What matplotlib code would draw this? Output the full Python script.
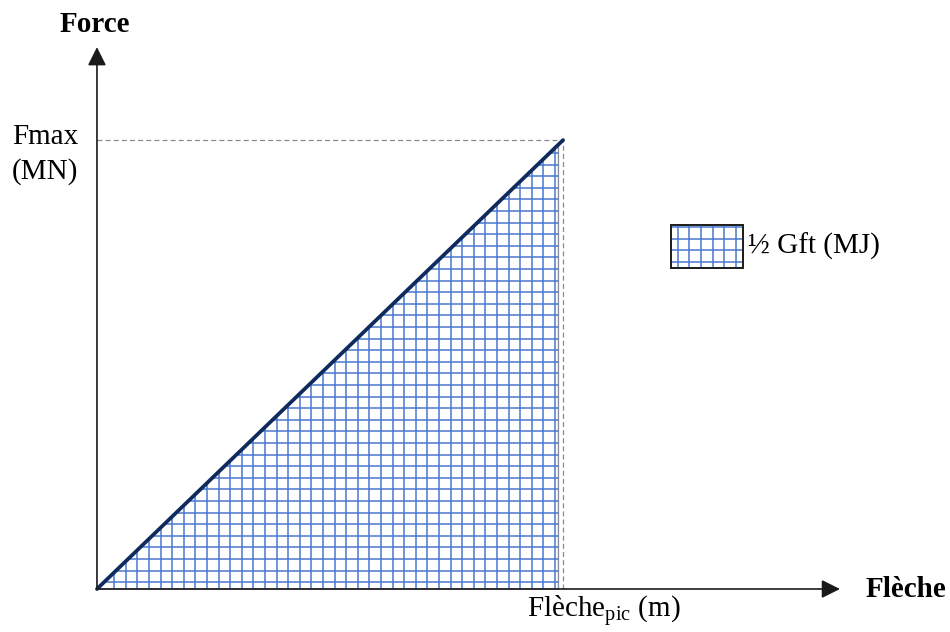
# -*- coding: utf-8 -*-
##### Courbe force - flèche (triangle, énergie ½ Gft) #####

import numpy as np
import matplotlib.pyplot as plt
from matplotlib.patches import Polygon, Rectangle

plt.rcParams['font.family'] = ['Liberation Serif', 'DejaVu Serif']
plt.rcParams['mathtext.fontset'] = 'custom'
plt.rcParams['mathtext.rm'] = 'Liberation Serif'

# données (normalisées : flèche au pic = 1, Fmax = 1)
fleche = [0.0, 1.0]
force = [0.0, 1.0]
fleche_aire = 0.99     # bord droit de la zone hachurée

lab_x = "Flèche"
lab_y = "Force"
lab_fmax = ["Fmax", "(MN)"]
lab_pic = "Flèche$_{\\mathrm{pic}}$ (m)"
lab_leg = "½ Gft (MJ)"

x_lim = [-0.208, 1.830]
y_lim = [-0.0958, 1.312]
x_fleche = 1.594   # pointe de la flèche horizontale
y_fleche = 1.207   # pointe de la flèche verticale

fig = plt.figure(figsize=(9.5, 6.32), dpi=100)
ax = fig.add_axes([0, 0, 1, 1])
ax.set_xlim(x_lim)
ax.set_ylim(y_lim)
ax.axis('off')

# taille d'un pixel en unités de données
px_x = (x_lim[1] - x_lim[0]) / 950
px_y = (y_lim[1] - y_lim[0]) / 632

bleu = '#4a78d0'


def quadrillage(patch, x0, x1, y0, y1, ox, oy, pas=11.6):
  xs = np.arange(x0 + ox * px_x, x1, pas * px_x)
  ys = np.arange(y0 + oy * px_y, y1, pas * px_y)
  v = ax.vlines(xs, y0, y1, color=bleu, lw=1.1, zorder=2)
  h = ax.hlines(ys, x0, x1, color=bleu, lw=1.1, zorder=2)
  v.set_clip_path(patch)
  h.set_clip_path(patch)


# zone hachurée
tri = Polygon([[fleche[0], force[0]],
               [fleche_aire * fleche[1], fleche_aire * force[1]],
               [fleche_aire * fleche[1], force[0]]],
              closed=True, facecolor='white', edgecolor='#8a909c', lw=1.0, zorder=1)
ax.add_patch(tri)
quadrillage(tri, fleche[0], fleche[1], force[0], force[1], 17.3, 6.7)

# lignes pointillées
ax.plot([0, fleche[1]], [force[1], force[1]], ls=(0, (4, 2.5)), color='#8c8c8c', lw=0.9, zorder=3)
ax.plot([fleche[1], fleche[1]], [0, force[1]], ls=(0, (4, 2.5)), color='#8c8c8c', lw=0.9, zorder=3)

# courbe
ax.plot(fleche, force, color='#0f2b5e', lw=2.7, solid_capstyle='round', zorder=4)

# axes avec flèches
arr = dict(arrowstyle='-|>,head_length=0.56,head_width=0.28', color='#1a1a1a',
           lw=1.2, mutation_scale=20, shrinkA=0, shrinkB=0)
ax.annotate('', xy=(x_fleche, 0), xytext=(0, 0), arrowprops=arr, zorder=5)
ax.annotate('', xy=(0, y_fleche), xytext=(0, 0), arrowprops=arr, zorder=5)

# textes
ax.text(-0.004, 1.258, lab_y, fontsize=21, fontweight='bold', ha='center', va='center')
ax.text(1.648, -0.002, lab_x, fontsize=21, fontweight='bold', ha='left', va='center')
ax.text(-0.182, 1.007, lab_fmax[0], fontsize=21, ha='left', va='center')
ax.text(-0.182, 0.931, lab_fmax[1], fontsize=21, ha='left', va='center')
ax.text(0.923, -0.0624, lab_pic, fontsize=21, ha='left', va='baseline')

# légende
rx0, rx1, ry0, ry1 = 1.232, 1.386, 0.715, 0.811
leg = Rectangle((rx0, ry0), rx1 - rx0, ry1 - ry0, facecolor='white',
                edgecolor='#1a1a1a', lw=1.2, zorder=1)
ax.add_patch(leg)
quadrillage(leg, rx0, rx1, ry0, ry1, 6.5, 6.0)
ax.add_patch(Rectangle((rx0, ry0), rx1 - rx0, ry1 - ry0, facecolor='none',
                       edgecolor='#1a1a1a', lw=1.2, zorder=3))
ax.text(1.397, 0.764, lab_leg, fontsize=21, ha='left', va='center')

plt.savefig('out.png', dpi=100)
